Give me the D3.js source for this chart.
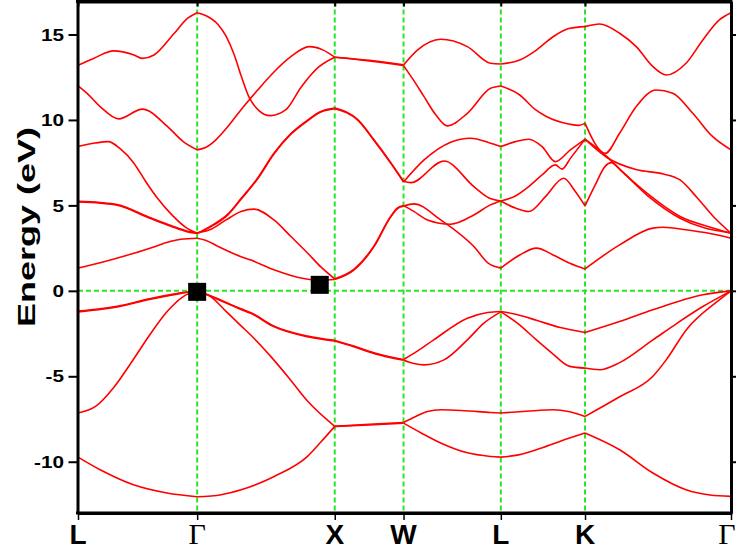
<!DOCTYPE html>
<html><head><meta charset="utf-8">
<script src="https://cdn.jsdelivr.net/npm/d3@7"></script>
<style>body{margin:0;background:#fff}svg{display:block}</style>
</head><body>
<script>
// ---- data ----
const kLabels = ["L","Γ","X","W","L","K","Γ"];
const kDist = [0, 0.866, 1.866, 2.366, 3.073, 3.685, 4.746];
const yTicks = [-10, -5, 0, 5, 10, 15];
// bands: [path position in segment units (0..6), energy eV]
const band1 = [[0,-9.73],[.186,-10.47],[.466,-11.35],[.746,-11.83],[1,-12.05],
 [1.174,-11.93],[1.319,-11.64],[1.56,-10.86],[1.802,-9.69],[1.899,-8.85],[2,-7.93],
 [2.5,-7.85],[3,-7.74],
 [3.177,-8.3],[3.382,-8.9],[3.638,-9.45],[3.894,-9.69],[4,-9.73],
 [4.21,-9.6],[4.423,-9.3],[4.707,-8.8],[5,-8.32],
 [5.237,-9.3],[5.465,-10.66],[5.692,-11.64],[5.856,-11.95],[6,-12.03]];
const band2 = [[0,-7.15],[.15,-6.75],[.3,-5.65],[.466,-4.0],[.6,-2.6],[.75,-1.2],[.88,-0.35],[1,0],
 [1.101,-0.35],[1.21,-1.2],[1.319,-2.05],[1.391,-2.6],[1.536,-3.85],[1.667,-5.1],[1.802,-6.45],[2,-7.93],
 [2.5,-7.81],[3,-7.70],
 [3.126,-7.35],[3.246,-7.06],[3.382,-6.96],[3.638,-7.02],[3.894,-7.12],[4,-7.15],
 [4.305,-7.05],[4.621,-6.96],[4.818,-7.08],[5,-7.35],
 [5.237,-6.2],[5.465,-5.0],[5.556,-4.04],[5.692,-2.3],[5.92,-0.53],[6,0]];
const band3 = [[0,-1.19],[.186,-1.05],[.329,-0.9],[.61,-0.45],[.864,-0.12],[1,0],
 [1.101,-0.3],[1.319,-1.05],[1.391,-1.28],[1.56,-2.07],[1.802,-2.65],[2,-2.9],
 [2.277,-3.23],[2.568,-3.62],[3,-4.02],
 [3.15,-3.5],[3.31,-2.87],[3.656,-1.6],[3.864,-1.27],[4,-1.21],
 [4.2,-1.4],[4.423,-1.72],[4.707,-2.15],[5,-2.44],
 [5.237,-1.8],[5.465,-1.11],[5.807,-0.23],[6,0]];
const band4 = [[0,-1.23],[.186,-1.09],[.329,-0.94],[.61,-0.49],[.864,-0.15],[1,0],
 [1.101,-0.33],[1.319,-1.09],[1.391,-1.32],[1.56,-2.11],[1.802,-2.69],[2,-2.94],
 [2.277,-3.27],[2.568,-3.66],[3,-4.06],
 [3.106,-4.25],[3.211,-4.33],[3.416,-4.04],[3.656,-2.87],[3.826,-1.89],[4,-1.23],
 [4.2,-1.9],[4.423,-2.87],[4.621,-3.7],[4.818,-4.42],[5,-4.52],
 [5.1,-4.62],[5.237,-4.2],[5.465,-2.87],[5.63,-1.9],[5.807,-0.92],[6,0]];
const band5 = [[0,1.33],[.186,1.64],[.398,2.05],[.61,2.51],[.78,2.9],[.864,3.02],[1,3.08],
 [1.065,2.95],[1.152,2.6],[1.319,2.0],[1.391,1.8],[1.558,1.23],[1.754,0.75],[1.899,0.62],[2,0.66],
 [2.277,1.21],[2.568,2.57],[2.815,4.33],[2.917,4.83],[3,4.95],
 [3.106,5.09],[3.382,4.15],[3.723,2.59],[3.87,1.62],[4,1.33],
 [4.225,2.1],[4.423,2.5],[4.621,2.1],[4.826,1.6],[5,1.28],
 [5.237,2.69],[5.465,3.67],[5.535,3.72],[5.692,3.57],[5.856,3.35],[6,3.08]];
const band6 = [[0,5.24],[.186,5.17],[.328,5.05],[.61,4.27],[.78,3.82],[.921,3.49],[1,3.39],
 [1.101,3.6],[1.21,4.15],[1.319,4.64],[1.413,4.78],[1.558,4.15],[1.681,3.18],[1.804,2.2],[1.899,1.4],[2,0.7],
 [2.277,1.25],[2.568,2.61],[2.815,4.37],[2.917,4.87],[3,4.99],
 [3.106,4.65],[3.246,4.15],[3.485,3.9],[3.723,4.44],[3.894,5.03],[4,5.26],
 [4.174,5.55],[4.332,6.1],[4.49,6.78],[4.648,7.37],[4.727,7.12],[4.826,7.75],[5,8.87],
 [5.15,7.8],[5.355,7.08],[5.537,6.84],[5.651,6.49],[5.768,5.45],[5.879,4.35],[6,3.37]];
const band7 = [[0,5.2],[.186,5.13],[.328,5.01],[.61,4.23],[.78,3.78],[.921,3.45],[1,3.35],
 [1.101,3.8],[1.225,4.5],[1.319,5.4],[1.44,6.6],[1.558,8.05],[1.681,9.2],[1.804,10.0],[1.899,10.5],[2,10.7],
 [2.335,10.02],[2.568,8.85],[2.815,7.5],[3,6.41],
 [3.075,6.33],[3.416,7.6],[3.723,6.1],[3.874,5.45],[4,5.26],
 [4.174,4.84],[4.332,4.64],[4.53,5.51],[4.746,6.59],[4.885,5.81],[5,4.97],
 [5.07,6.2],[5.139,7.3],[5.18,7.5],[5.25,7.0],[5.424,5.6],[5.651,4.25],[5.81,3.7],[6,3.39]];
const band8 = [[0,8.44],[.144,8.65],[.254,8.73],[.356,8.3],[.466,7.5],[.568,6.4],[.669,5.4],[.78,4.5],[.907,3.7],[1,3.37],
 [1.101,3.76],[1.225,4.46],[1.319,5.36],[1.44,6.56],[1.558,8.01],[1.681,9.16],[1.804,9.96],[1.899,10.46],[2,10.66],
 [2.335,9.98],[2.568,8.81],[2.815,7.46],[3,6.37],
 [3.211,7.66],[3.485,8.7],[3.69,8.93],[3.894,8.64],[4,8.44],
 [4.174,8.73],[4.332,8.87],[4.49,8.44],[4.648,7.56],[4.826,8.25],[5,8.87],
 [5.15,7.85],[5.195,7.47],[5.424,5.71],[5.651,4.35],[5.877,3.68],[6,3.37]];
const band9 = [[0,11.99],[.085,11.5],[.186,10.78],[.342,10.06],[.54,10.63],[.752,9.61],[.881,8.75],[1,8.25],
 [1.065,8.4],[1.138,8.85],[1.222,9.6],[1.319,10.6],[1.44,11.75],[1.56,12.82],[1.681,13.7],[1.814,14.29],[1.913,14.1],[2,13.67],
 [2.5,13.45],[3,13.18],
 [3.106,12.3],[3.211,11.36],[3.331,10.3],[3.451,9.65],[3.656,10.39],[3.894,11.85],[4,11.99],
 [4.225,11.46],[4.411,10.6],[4.541,10.2],[4.818,9.75],[4.924,9.68],[5,9.8],
 [5.139,8.05],[5.237,9.22],[5.351,10.78],[5.487,11.75],[5.601,11.56],[5.738,10.39],[5.875,9.02],[6,8.25]];
const band10 = [[0,13.2],[.13,13.6],[.299,14.04],[.469,13.8],[.54,13.6],[.638,13.8],[.808,15.07],[.921,15.95],[1,16.27],
 [1.065,16.1],[1.15,15.6],[1.21,14.9],[1.27,13.8],[1.319,12.6],[1.379,11.3],[1.449,10.55],[1.531,10.25],[1.645,10.6],[1.754,11.9],[1.884,13.1],[2,13.67],
 [2.5,13.49],[3,13.22],
 [3.143,14.09],[3.382,14.72],[3.656,14.29],[3.894,13.32],[4,13.27],
 [4.225,13.51],[4.423,14.09],[4.621,14.87],[4.818,15.36],[5,15.46],
 [5.1,15.61],[5.237,15.07],[5.351,14.29],[5.465,13.12],[5.556,12.63],[5.692,13.32],[5.807,14.68],[5.92,15.85],[6,16.27]];
const bands = [band1, band2, band3, band4, band5, band6, band7, band8, band9, band10];
const markers = [[1, -0.06], [1.891, 0.35]];
const yTitle = "Energy (eV)";

// ---- layout ----
const W = 736, H = 551;
const svg = d3.select("body").append("svg").attr("width", W).attr("height", H);
const xDist = d3.scaleLinear().domain([0, kDist[kDist.length-1]]).range([78, 731]);
const segToDist = d3.scaleLinear().domain(d3.range(kDist.length)).range(kDist);
const xs = s => xDist(segToDist(s));
const y = d3.scaleLinear().domain([-13, 16.93]).range([513, 1.5]);
const green = "#2be32b";

// grid (dashed green)
svg.append("g").selectAll("line").data(kDist.slice(1, -1)).join("line")
  .attr("x1", d => xDist(d)).attr("x2", d => xDist(d))
  .attr("y1", y.range()[1]).attr("y2", y.range()[0])
  .attr("stroke", green).attr("stroke-width", 2).attr("stroke-dasharray", "5,3");
svg.append("line").attr("x1", xDist(0)).attr("x2", xDist.range()[1])
  .attr("y1", y(0)).attr("y2", y(0))
  .attr("stroke", green).attr("stroke-width", 2).attr("stroke-dasharray", "5,3");

// bands, drawn segment by segment
const line = d3.line().x(d => xs(d[0])).y(d => y(d[1])).curve(d3.curveMonotoneX);
const gB = svg.append("g").attr("fill", "none").attr("stroke", "#ff0000").attr("stroke-width", 1.6);
bands.forEach(b => {
  for (let i = 0; i < kDist.length - 1; i++) {
    const pts = b.filter(p => p[0] >= i - 1e-9 && p[0] <= i + 1 + 1e-9);
    gB.append("path").attr("d", line(pts));
  }
});

// markers
svg.append("g").selectAll("rect").data(markers).join("rect")
  .attr("x", d => xs(d[0]) - 9).attr("y", d => y(d[1]) - 9)
  .attr("width", 18).attr("height", 18).attr("fill", "#000");

// axes
function styleAxis(g, w) {
  g.select(".domain").attr("stroke", "#000").attr("stroke-width", 3);
  g.selectAll(".tick line").attr("stroke", "#000").attr("stroke-width", w);
}
svg.append("g").attr("transform", "translate(77.5,0)")
  .call(d3.axisLeft(y).tickValues(yTicks).tickSize(9).tickSizeOuter(0).tickFormat(""))
  .call(g => styleAxis(g, 2));
svg.append("g").attr("transform", "translate(731,0)")
  .call(d3.axisRight(y).tickValues(yTicks).tickSize(6).tickSizeOuter(0).tickFormat(""))
  .call(g => styleAxis(g, 2));
svg.append("g").attr("transform", "translate(0,513)")
  .call(d3.axisBottom(xDist).tickValues(kDist).tickSize(7).tickSizeOuter(0).tickFormat(""))
  .call(g => styleAxis(g, 1.5));
svg.append("g").attr("transform", "translate(0,1.5)")
  .call(d3.axisTop(xDist).tickValues(kDist).tickSize(-5).tickSizeOuter(0).tickFormat(""))
  .call(g => styleAxis(g, 2));
svg.append("line").attr("x1", 76).attr("x2", 732.5).attr("y1", 1.5).attr("y2", 1.5)
  .attr("stroke", "#000").attr("stroke-width", 3);
svg.append("line").attr("x1", 76).attr("x2", 732.5).attr("y1", 513).attr("y2", 513)
  .attr("stroke", "#000").attr("stroke-width", 3);

// y tick labels
svg.append("g").selectAll("text").data(yTicks).join("text")
  .attr("transform", d => `translate(64,${y(d)}) scale(1.22,1)`)
  .attr("dy", "0.36em").attr("text-anchor", "end")
  .attr("font-family", "'Liberation Sans', Arial, sans-serif").attr("font-weight", "bold")
  .attr("font-size", 17).text(d => d);

// x labels
const last = kLabels.length - 1;
svg.append("g").selectAll("text").data(kLabels).join("text")
  .attr("x", (d, i) => i === last ? W - 0.5 : xDist(kDist[i])).attr("y", 544)
  .attr("text-anchor", (d, i) => i === last ? "end" : "middle")
  .attr("font-family", d => d === "Γ" ? "'Liberation Serif', 'Times New Roman', serif" : "'Liberation Sans', Arial, sans-serif")
  .attr("font-weight", d => d === "Γ" ? "normal" : "bold")
  .attr("font-size", d => d === "Γ" ? 30 : 28)
  .text(d => d);

// y title
svg.append("text").attr("transform", "translate(35,227) rotate(-90)")
  .attr("text-anchor", "middle")
  .attr("font-family", "'Liberation Sans', Arial, sans-serif").attr("font-weight", "bold")
  .attr("font-size", 24).attr("textLength", 200).attr("lengthAdjust", "spacingAndGlyphs")
  .text(yTitle);
</script>
</body></html>
